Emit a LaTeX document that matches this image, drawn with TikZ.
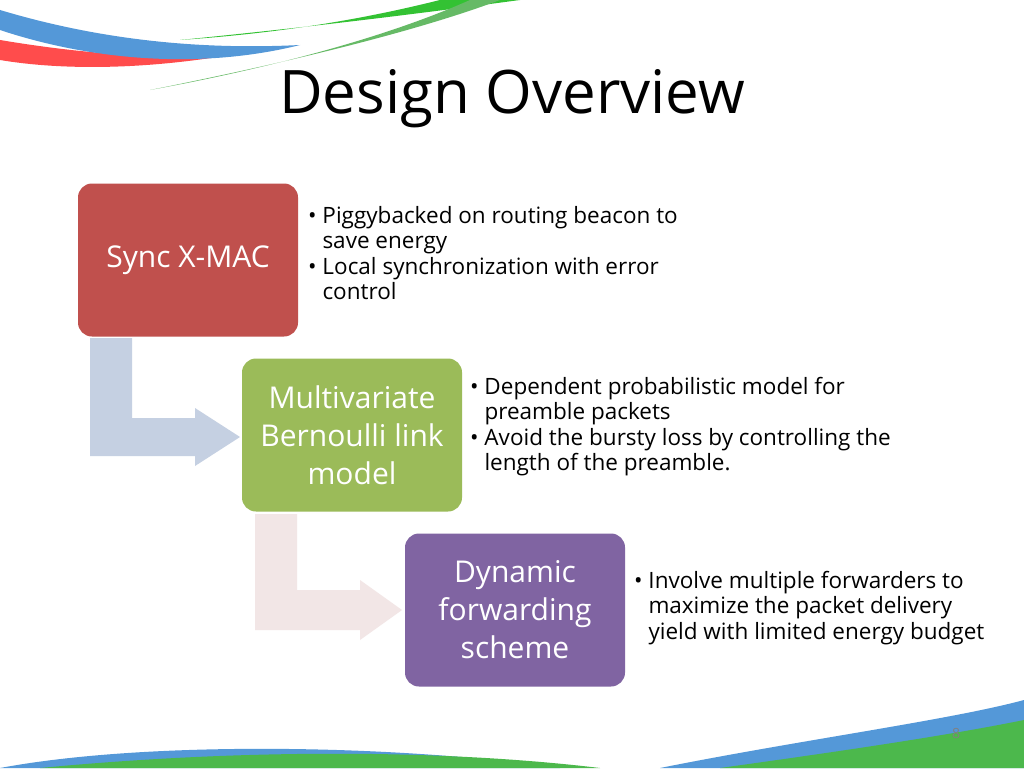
\documentclass[tikz,border=0pt]{standalone}
\usepackage{fontspec}
\setmainfont{Open Sans}
\definecolor{arrA}{RGB}{197,208,226}
\definecolor{arrB}{RGB}{242,230,230}
\definecolor{cRed}{RGB}{192,80,77}
\definecolor{cGreen}{RGB}{155,187,89}
\definecolor{cPurple}{RGB}{128,100,162}
\begin{document}
\begin{tikzpicture}[x=1pt,y=-1pt,
  box/.style={rounded corners=14pt,minimum width=220pt,minimum height=153pt,text=white,font=\fontsize{30}{38}\selectfont,align=center,inner sep=0pt},
  btxt/.style={anchor=north west,align=left,font=\fontsize{22.5}{25.5}\selectfont,inner sep=0pt},
  bendA/.style={fill=#1,draw=none}]
\useasboundingbox (0,0) rectangle (1024,768);
\fill[white] (0,0) rectangle (1024,768);
% top swooshes
\fill[green!70!black!80] (180,40) .. controls (330,25) and (430,12) .. (520,0) -- (440,0) .. controls (360,20) and (280,33) .. (180,40) -- cycle;
\fill[red!70] (0,40) .. controls (60,50) and (140,60) .. (230,55) .. controls (140,70) and (60,70) .. (0,60) -- cycle;
\fill[cyan!60!blue!70] (0,10) .. controls (100,40) and (200,50) .. (300,45) .. controls (200,70) and (90,60) .. (0,30) -- cycle;
\fill[green!55!black!60] (150,90) .. controls (300,60) and (420,30) .. (500,0) -- (470,0) .. controls (380,40) and (260,70) .. (150,90) -- cycle;
% bottom swooshes
\fill[cyan!60!blue!70] (0,768) .. controls (150,740) and (400,745) .. (560,768) -- cycle;
\fill[green!60!black!70] (40,768) .. controls (250,748) and (450,750) .. (600,768) -- cycle;
\fill[cyan!60!blue!70] (660,768) .. controls (800,740) and (950,720) .. (1024,700) -- (1024,768) -- cycle;
\fill[green!60!black!70] (720,768) .. controls (850,750) and (950,735) .. (1024,720) -- (1024,768) -- cycle;
% title
\node[font=\fontsize{60}{66}\selectfont] (title) at (512,99) {Design Overview};
% bent arrows
\fill[bendA=arrA] (90,338) -- (132,338) -- (132,418) -- (195,418) -- (195,408) -- (240,437) -- (195,466) -- (195,456) -- (90,456) -- cycle;
\fill[bendA=arrB] (255,514) -- (297,514) -- (297,590) -- (360,590) -- (360,580) -- (402,610) -- (360,640) -- (360,630) -- (255,630) -- cycle;
% boxes
\node[box,fill=cRed] (b1) at (188,260) {Sync X-MAC};
\node[box,fill=cGreen] (b2) at (352,435) {Multivariate\\Bernoulli link\\model};
\node[box,fill=cPurple] (b3) at (515,610) {Dynamic\\forwarding\\scheme};
% bullets
\node[btxt] (t1) at (308,206) {• Piggybacked on routing beacon to\\\phantom{• }save energy\\• Local synchronization with error\\\phantom{• }control};
\node[btxt] (t2) at (470,377) {• Dependent probabilistic model for\\\phantom{• }preamble packets\\• Avoid the bursty loss by controlling the\\\phantom{• }length of the preamble.};
\node[btxt] (t3) at (634,571) {• Involve multiple forwarders to\\\phantom{• }maximize the packet delivery\\\phantom{• }yield with limited energy budget};
\node[text=gray,font=\fontsize{14}{16}\selectfont] (pg) at (956,733) {8};
\end{tikzpicture}
\end{document}
